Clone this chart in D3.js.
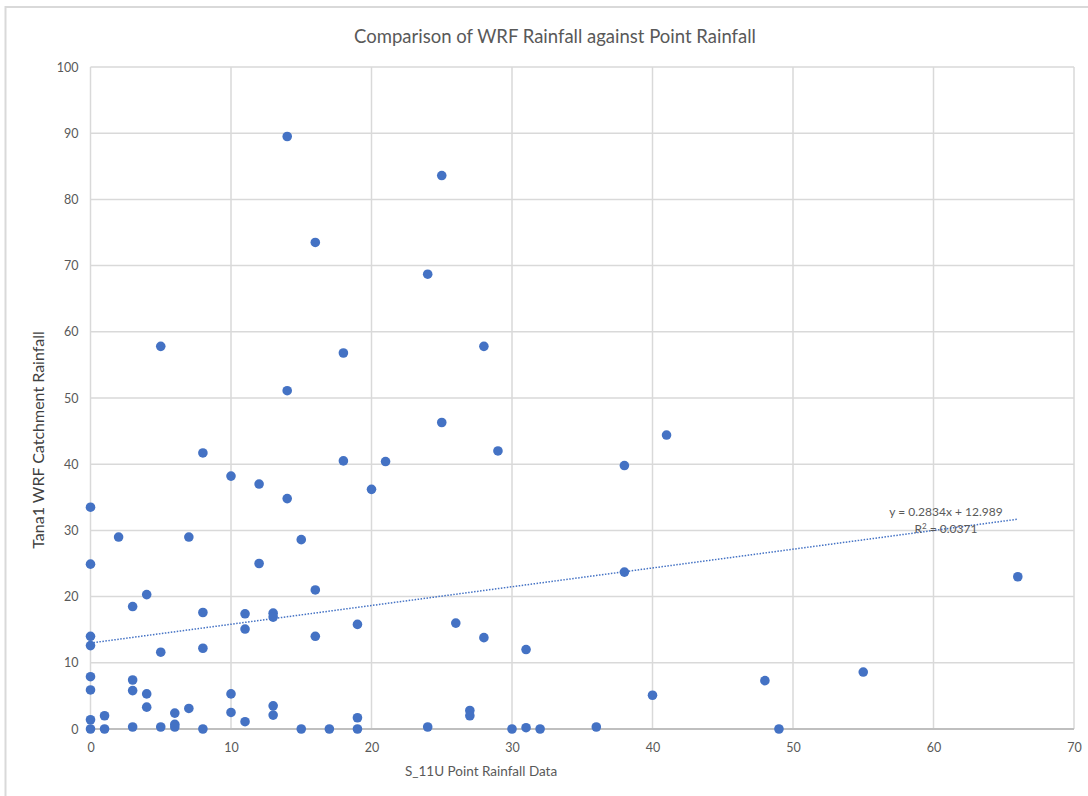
<!DOCTYPE html>
<html>
<head>
<meta charset="utf-8">
<script src="https://cdn.jsdelivr.net/npm/d3@7"></script>
<style>
  html, body { margin: 0; padding: 0; background: #fff; }
  svg { display: block; }
  text { font-family: Lato, "Open Sans", sans-serif; }
</style>
</head>
<body>
<svg id="chart" width="1088" height="796"></svg>
<script>
// Point rainfall at station S_11U (mm) and matching WRF catchment rainfall (mm)
const pointRainfall = [
  0, 0, 0, 0, 0, 0, 0, 0,
  1, 1,
  2,
  3, 3, 3, 3,
  4, 4, 4,
  5, 5, 5,
  6, 6, 6,
  7, 7,
  8, 8, 8, 8,
  10, 10, 10,
  11, 11, 11,
  12, 12,
  13, 13, 13, 13,
  14, 14, 14,
  15, 15,
  16, 16, 16,
  17,
  18, 18,
  19, 19, 19,
  20,
  21,
  24, 24,
  25, 25,
  26,
  27, 27,
  28, 28,
  29,
  30,
  31, 31,
  32,
  36,
  38, 38,
  40,
  41,
  48,
  49,
  55,
  66
];
const wrfRainfall = [
  33.5, 24.9, 14.0, 12.6, 7.9, 5.9, 1.4, 0,
  2.0, 0,
  29.0,
  18.5, 7.4, 5.8, 0.3,
  20.3, 5.3, 3.3,
  57.8, 11.6, 0.3,
  2.4, 0.7, 0.3,
  29.0, 3.1,
  41.7, 17.6, 12.2, 0,
  38.2, 5.3, 2.5,
  17.4, 15.1, 1.1,
  37.0, 25.0,
  17.5, 16.9, 3.5, 2.1,
  89.5, 51.1, 34.8,
  28.6, 0,
  73.5, 21.0, 14.0,
  0,
  56.8, 40.5,
  15.8, 1.7, 0,
  36.2,
  40.4,
  68.7, 0.3,
  83.6, 46.3,
  16.0,
  2.8, 2.0,
  57.8, 13.8,
  42.0,
  0,
  12.0, 0.2,
  0,
  0.3,
  39.8, 23.7,
  5.1,
  44.4,
  7.3,
  0,
  8.6,
  23.0
];

// Linear trendline fitted to the series
const trendSlope = 0.2834;
const trendIntercept = 12.989;
const trendR2 = 0.0371;

const xTicks = [0, 10, 20, 30, 40, 50, 60, 70];
const yTicks = [0, 10, 20, 30, 40, 50, 60, 70, 80, 90, 100];

const svg = d3.select("#chart");

// chart area outline
svg.append("rect")
  .attr("x", 5.5).attr("y", 7)
  .attr("width", 1120).attr("height", 820)
  .attr("fill", "none")
  .attr("stroke", "#d9d9d9")
  .attr("stroke-width", 2);

const plot = { left: 90.5, right: 1074, top: 67, bottom: 729 };

const x = d3.scaleLinear().domain([0, 70]).range([plot.left, plot.right]);
const y = d3.scaleLinear().domain([0, 100]).range([plot.bottom, plot.top]);

// gridlines
svg.append("g")
  .selectAll("line.vgrid")
  .data(xTicks)
  .join("line")
  .attr("x1", d => x(d)).attr("x2", d => x(d))
  .attr("y1", plot.top).attr("y2", plot.bottom)
  .attr("stroke", "#d9d9d9")
  .attr("stroke-width", 1.5);

svg.append("g")
  .selectAll("line.hgrid")
  .data(yTicks)
  .join("line")
  .attr("x1", plot.left).attr("x2", plot.right)
  .attr("y1", d => y(d)).attr("y2", d => y(d))
  .attr("stroke", d => d === 0 ? "#bfbfbf" : "#d9d9d9")
  .attr("stroke-width", d => d === 0 ? 2 : 1.5);

// tick labels
const xAxis = svg.append("g")
  .attr("transform", `translate(0,${plot.bottom})`)
  .call(d3.axisBottom(x).tickValues(xTicks).tickSize(0).tickPadding(14));
const yAxis = svg.append("g")
  .attr("transform", `translate(${plot.left},0)`)
  .call(d3.axisLeft(y).tickValues(yTicks).tickSize(0).tickPadding(12));

[xAxis, yAxis].forEach(g => {
  g.select(".domain").remove();
  g.selectAll("text")
    .attr("fill", "#595959")
    .style("font-size", "12.5px")
    .style("font-family", "Lato, 'Open Sans', sans-serif");
});

// data points
svg.append("g")
  .selectAll("circle")
  .data(pointRainfall.map((v, i) => [v, wrfRainfall[i]]))
  .join("circle")
  .attr("cx", d => x(d[0]))
  .attr("cy", d => y(d[1]))
  .attr("r", 4.8)
  .attr("fill", "#4472c4");

// trendline over the data range
const xMin = d3.min(pointRainfall), xMax = d3.max(pointRainfall);
svg.append("line")
  .attr("x1", x(xMin)).attr("y1", y(trendSlope * xMin + trendIntercept))
  .attr("x2", x(xMax)).attr("y2", y(trendSlope * xMax + trendIntercept))
  .attr("stroke", "#4472c4")
  .attr("stroke-width", 1.5)
  .attr("stroke-dasharray", "1.5,1.5");

// trendline equation
const eq = svg.append("text")
  .attr("x", 946).attr("y", 516)
  .attr("text-anchor", "middle")
  .attr("fill", "#595959")
  .style("font-size", "12px");
eq.text(`y = ${trendSlope}x + ${trendIntercept}`);

const r2 = svg.append("text")
  .attr("x", 946).attr("y", 533)
  .attr("text-anchor", "middle")
  .attr("fill", "#595959")
  .style("font-size", "12px");
r2.append("tspan").text("R");
r2.append("tspan").attr("dy", -4).style("font-size", "8px").text("2");
r2.append("tspan").attr("dy", 4).text(` = ${trendR2}`);

// titles
svg.append("text")
  .attr("x", 555).attr("y", 43)
  .attr("text-anchor", "middle")
  .attr("fill", "#595959")
  .style("font-size", "18.5px")
  .text("Comparison of WRF Rainfall against Point Rainfall");

svg.append("text")
  .attr("x", 405).attr("y", 776)
  .attr("text-anchor", "start")
  .attr("fill", "#595959")
  .style("font-size", "13.5px")
  .text("S_11U Point Rainfall Data");

svg.append("text")
  .attr("transform", "translate(44,440) rotate(-90)")
  .attr("text-anchor", "middle")
  .attr("fill", "#404040")
  .style("font-size", "16px")
  .text("Tana1 WRF Catchment Rainfall");
</script>
</body>
</html>
